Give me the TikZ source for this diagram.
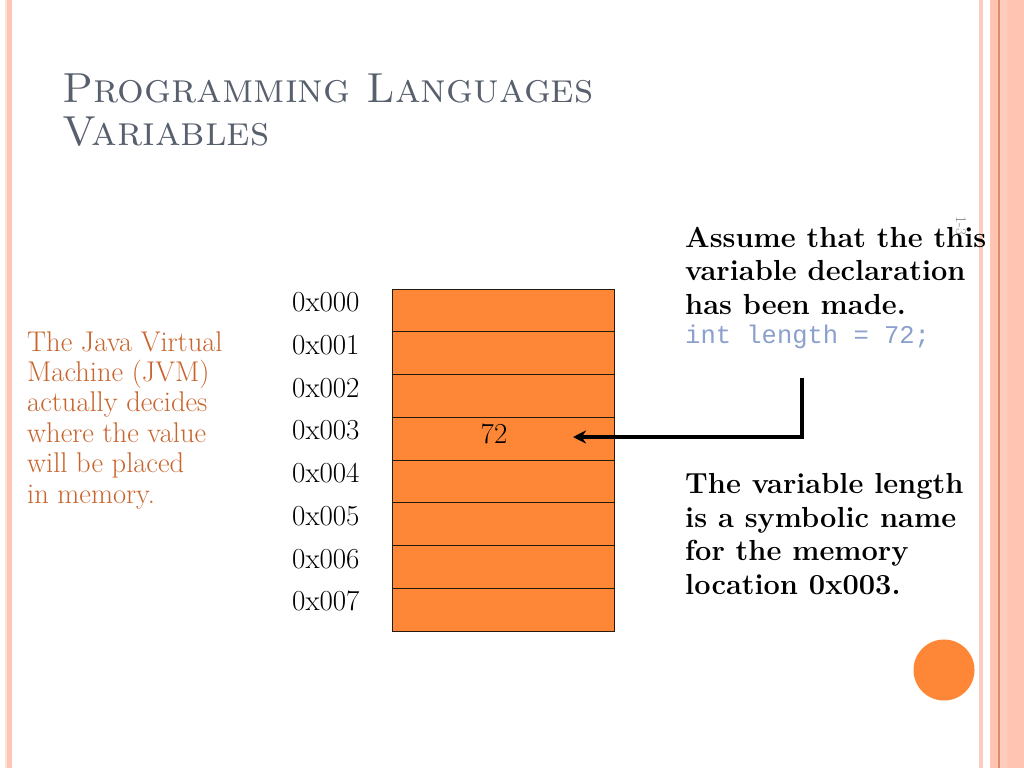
\documentclass[tikz,border=0pt]{standalone}
\usepackage{fontspec}
\newfontfamily\codefont{Liberation Mono}
\usetikzlibrary{arrows.meta}
\definecolor{cellorange}{RGB}{253,135,55}
\definecolor{titlegray}{RGB}{88,96,110}
\definecolor{jvmtext}{RGB}{200,100,45}
\definecolor{codeblue}{RGB}{140,160,205}
\definecolor{stripe}{RGB}{255,196,178}
\definecolor{stripelight}{RGB}{250,205,190}
\definecolor{stripedark}{RGB}{225,140,105}
\definecolor{beige}{RGB}{250,228,212}
\tikzset{
  cell/.style={draw=black!80!brown, line width=0.8pt, fill=cellorange, minimum width=222pt, minimum height=42.75pt, inner sep=0pt, outer sep=0pt},
  addr/.style={anchor=base west, inner sep=0pt, font=\fontsize{29}{32}\selectfont},
  bodybold/.style={anchor=base west, inner sep=0pt, align=left, font=\fontsize{29}{33.5}\selectfont\bfseries},
  ptr/.style={line width=3.5pt, -{Stealth[length=13pt,width=13pt]}}
}
\begin{document}
\begin{tikzpicture}[x=1pt,y=-1pt]
\useasboundingbox (0,0) rectangle (1024,768);
\fill[white] (0,0) rectangle (1024,768);
% border stripes
\fill[beige] (5,0) rectangle (6.5,768);
\fill[stripe] (7,0) rectangle (12,768);
\fill[stripelight] (979,0) rectangle (983,768);
\fill[stripe] (990,0) rectangle (1024,768);
\fill[stripelight] (999.5,0) rectangle (1007,768);
\fill[stripedark] (997.5,0) rectangle (999.5,768);
% title (base anchor = last line)
\node[anchor=base west, inner sep=0pt, text=titlegray, align=left, font=\fontsize{42}{43}\selectfont\scshape] (title) at (62,145) {Programming Languages\\Variables};
% slide number
\node[rotate=-90, inner sep=0pt, text=gray, font=\fontsize{15}{16}\selectfont] (num) at (961,226) {1-3};
% memory cells
\foreach \i/\lab in {0/0x000,1/0x001,2/0x002,3/0x003,4/0x004,5/0x005,6/0x006,7/0x007}{
  \node[cell] (m\i) at (503,{310.4+42.75*\i}) {};
  \node[addr] (a\i) at (292,{311.5+42.75*\i}) {\lab};
}
\node[anchor=base, inner sep=0pt, font=\fontsize{29}{32}\selectfont] (val) at (494,443) {72};
% left text
\node[anchor=base west, inner sep=0pt, align=left, text=jvmtext, font=\fontsize{28.5}{30.4}\selectfont] (jvm) at (27,503) {The Java Virtual\\Machine (JVM)\\actually decides\\where the value\\will be placed\\in memory.};
% right texts
\node[bodybold] (assume) at (685,314) {Assume that the this\\variable declaration\\has been made.};
\node[anchor=base west, inner sep=0pt, text=codeblue, font=\fontsize{25.5}{28}\codefont] (code) at (685,343) {int length = 72;};
\node[bodybold] (sym) at (685,594) {The variable length\\is a symbolic name\\for the memory\\location 0x003.};
% arrow
\coordinate (start) at (802,378);
\coordinate (tip) at (573,437);
\draw[ptr] (start) |- (tip);
% circle
\node[circle, fill=cellorange, minimum size=61pt, inner sep=0pt] (dot) at (944,670) {};
\end{tikzpicture}
\end{document}
